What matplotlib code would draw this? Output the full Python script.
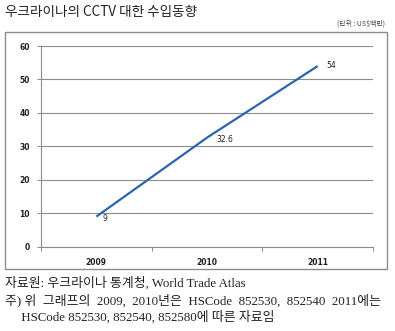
import matplotlib.pyplot as plt
import matplotlib.patches as patches

plt.rcParams['font.family'] = ['Noto Sans CJK KR', 'DejaVu Sans']

years = ['2009', '2010', '2011']
imports = [9, 32.6, 54]
value_labels = ['9', '32.6', '54']
yticks = [0, 10, 20, 30, 40, 50, 60]

fig = plt.figure(figsize=(3.95, 3.31), dpi=100)

# title and unit note
fig.text(5 / 395, 1 - 12 / 331, '우크라이나의 CCTV 대한 수입동향', fontsize=9.8,
         color='#222222', va='center', ha='left')
fig.text(385 / 395, 1 - 24 / 331, '(단위 : US$백만)', fontsize=5, color='#444444',
         va='center', ha='right')

# outer chart frame
frame = patches.Rectangle((5 / 395, 1 - 269 / 331), 382 / 395, 237 / 331,
                          transform=fig.transFigure, fill=False,
                          edgecolor='#8c8c8c', linewidth=1.0)
fig.patches.append(frame)

ax = fig.add_axes([41 / 395, 84.3 / 331, 332 / 395, 200.7 / 331])
x = list(range(len(years)))
ax.plot(x, imports, color='#2a66ad', linewidth=1.6, solid_capstyle='butt')

offsets = [(4.5, -1.5), (7, -1.5), (6.5, 0.5)]
for xi, yi, lab, off in zip(x, imports, value_labels, offsets):
    ax.annotate(lab, (xi, yi), xytext=off, textcoords='offset points',
                fontsize=5.5, color='#222222', ha='left', va='center',
                family='DejaVu Sans')

ax.set_xlim(-0.5, 2.5)
ax.set_ylim(0, 60)
ax.set_yticks(yticks)
ax.set_xticks(x)
ax.set_xticklabels(years)
ax.set_xticks([-0.5, 0.5, 1.5, 2.5], minor=True)
ax.tick_params(axis='x', which='major', length=0, pad=8, labelsize=5.5,
               labelcolor='#222222')
ax.tick_params(axis='x', which='minor', length=3, width=0.7, color='#888888',
               direction='out')
ax.tick_params(axis='y', length=3, width=0.7, color='#888888', pad=5,
               labelsize=5.5, labelcolor='#222222')
for lab in ax.get_xticklabels() + ax.get_yticklabels():
    lab.set_fontweight('bold')
    lab.set_family('DejaVu Sans')

ax.grid(axis='y', color='#8c8c8c', linewidth=0.8)
ax.set_axisbelow(True)
for side in ['top', 'right']:
    ax.spines[side].set_visible(False)
for side in ['left', 'bottom']:
    ax.spines[side].set_color('#8c8c8c')
    ax.spines[side].set_linewidth(0.8)

# source and notes (second line is justified, hence the wider gaps)
notes = ['자료원: 우크라이나 통계청, World Trade Atlas',
         '주) 위  그래프의  2009,  2010년은  HSCode  852530,  852540  2011에는',
         '     HSCode 852530, 852540, 852580에 따른 자료임']
for i, line in enumerate(notes):
    fig.text(5 / 395, 1 - (283 + i * 17) / 331, line, fontsize=9.3,
             family=['Liberation Serif', 'Noto Sans CJK KR'],
             color='#222222', va='center', ha='left')

fig.savefig('out.png', dpi=100)
